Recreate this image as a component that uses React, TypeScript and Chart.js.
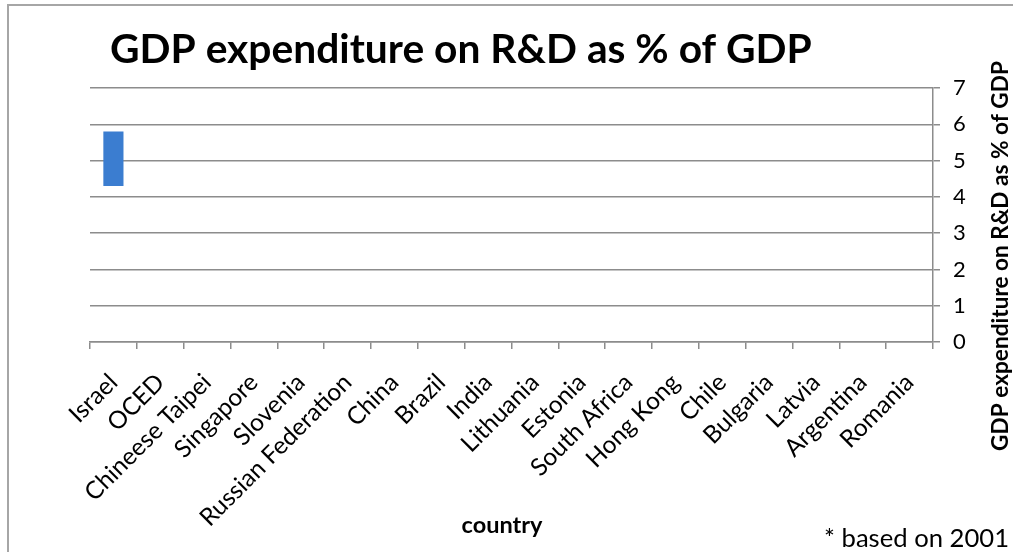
import React, { useEffect, useRef } from "react";
import { Chart, registerables } from "chart.js";

Chart.register(...registerables);

const categories = [
  "Israel",
  "OCED",
  "Chineese Taipei",
  "Singapore",
  "Slovenia",
  "Russian Federation",
  "China",
  "Brazil",
  "India",
  "Lithuania",
  "Estonia",
  "South Africa",
  "Hong Kong",
  "Chile",
  "Bulgaria",
  "Latvia",
  "Argentina",
  "Romania",
];
const rangeLow: (number | null)[] = [4.3, null, null, null, null, null, null, null, null, null, null, null, null, null, null, null, null, null];
const rangeHigh: (number | null)[] = [5.8, null, null, null, null, null, null, null, null, null, null, null, null, null, null, null, null, null];
const yMin = 0;
const yMax = 7;
const yStep = 1;

const chartTitle = "GDP expenditure on R&D as % of GDP";
const yTitle = "GDP expenditure on R&D as % of GDP";
const xTitle = "country";
const footnote = "* based on 2001";

const FONT = "Lato, 'Open Sans', sans-serif";
const GRID = "#8c8c8c";

// size a font so a text spans a given length in pixels
function fitSize(text: string, weight: string, target: number): number {
  const c = document.createElement("canvas").getContext("2d") as CanvasRenderingContext2D;
  c.font = `${weight} 100px ${FONT}`;
  const w = c.measureText(text).width;
  return w > 0 ? (100 * target) / w : 20;
}

function tickFontSize(): number {
  const c = document.createElement("canvas").getContext("2d") as CanvasRenderingContext2D;
  c.font = `100px ${FONT}`;
  const samples: [string, number][] = [
    ["Russian Federation", 196],
    ["Chineese Taipei", 166],
    ["Romania", 95],
    ["Israel", 62],
  ];
  let m = 0;
  let t = 0;
  for (const [s, w] of samples) {
    m += c.measureText(s).width;
    t += w;
  }
  return m > 0 ? (100 * t) / m : 23;
}

export default function App() {
  const ref = useRef<HTMLCanvasElement | null>(null);

  useEffect(() => {
    if (!ref.current) return;
    const titleSize = fitSize(chartTitle, "bold", 702);
    const yTitleSize = fitSize(yTitle, "bold", 390);
    const xTitleSize = fitSize(xTitle, "bold", 81);
    const footSize = fitSize(footnote, "normal", 185);
    const xTick = tickFontSize();
    const yTick = xTick * 0.9;

    const textPlugin = {
      id: "extraText",
      afterDraw(chart: any) {
        const ctx = chart.ctx as CanvasRenderingContext2D;
        ctx.save();
        ctx.fillStyle = "#000";
        ctx.textBaseline = "alphabetic";
        // main title
        ctx.font = `bold ${titleSize}px ${FONT}`;
        ctx.textAlign = "left";
        ctx.fillText(chartTitle, 101, 57);
        // x title
        ctx.font = `bold ${xTitleSize}px ${FONT}`;
        ctx.textAlign = "center";
        ctx.fillText(xTitle, 493, 526.5);
        // footnote
        ctx.font = `${footSize}px ${FONT}`;
        ctx.textAlign = "right";
        ctx.fillText(footnote, 1000, 541);
        // y title (rotated, reading bottom to top)
        ctx.translate(999, 250);
        ctx.rotate(-Math.PI / 2);
        ctx.font = `bold ${yTitleSize}px ${FONT}`;
        ctx.textAlign = "center";
        ctx.fillText(yTitle, 0, 0);
        ctx.restore();
      },
    };

    const chart = new Chart(ref.current, {
      type: "bar",
      data: {
        labels: categories,
        datasets: [
          {
            label: "GDP expenditure on R&D",
            data: categories.map((_, i) =>
              rangeLow[i] == null || rangeHigh[i] == null ? null : [rangeLow[i] as number, rangeHigh[i] as number]
            ) as any,
            backgroundColor: "#3b7dd0",
            borderWidth: 0,
            barPercentage: 0.43,
            categoryPercentage: 1,
          },
        ],
      },
      options: {
        responsive: false,
        animation: false,
        layout: { padding: { left: 81, right: 40, top: 82, bottom: 10 } },
        plugins: {
          legend: { display: false },
          tooltip: { enabled: false },
          title: { display: false },
        },
        scales: {
          x: {
            grid: {
              display: true,
              drawOnChartArea: false,
              offset: true,
              tickLength: 7,
              color: GRID,
              lineWidth: 1.5,
            },
            border: { display: true, color: GRID, width: 1.5 },
            ticks: {
              autoSkip: false,
              minRotation: 45,
              maxRotation: 45,
              padding: 19,
              color: "#000",
              font: { family: FONT, size: xTick },
            },
            afterFit: (s: any) => {
              s.height = 200;
            },
          },
          y: {
            position: "right",
            min: yMin,
            max: yMax,
            ticks: {
              stepSize: yStep,
              padding: 13,
              color: "#000",
              font: { family: FONT, size: yTick },
            },
            grid: { color: GRID, lineWidth: 1.5, tickLength: 7, drawTicks: true },
            border: { display: true, color: GRID, width: 1.5 },
            afterFit: (s: any) => {
              s.width = 40;
            },
          },
        },
      },
      plugins: [textPlugin],
    });
    return () => chart.destroy();
  }, []);

  return (
    <div
      style={{
        position: "fixed",
        left: 7,
        top: 4,
        width: 1006,
        height: 548,
        borderTop: "2px solid #a6a6a6",
        borderLeft: "2px solid #a6a6a6",
        background: "#fff",
        overflow: "hidden",
      }}
    >
      <canvas ref={ref} width={1004} height={546} style={{ display: "block", width: 1004, height: 546 }} />
    </div>
  );
}
